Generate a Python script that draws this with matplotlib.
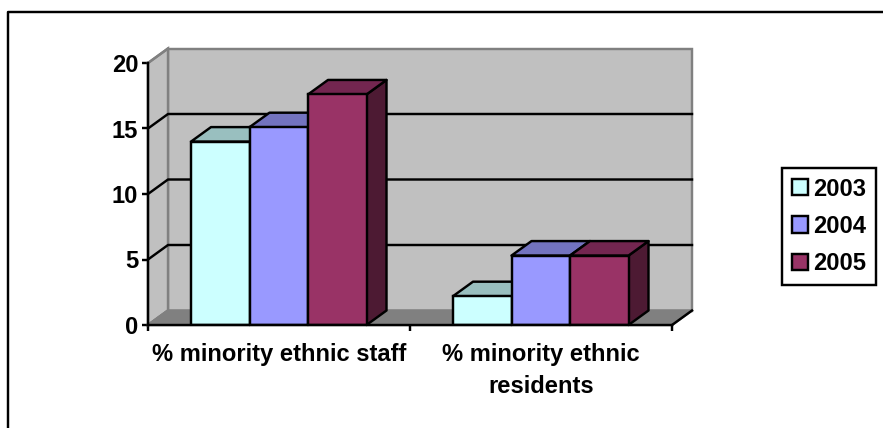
"""Recreated 3D style clustered column chart."""

from __future__ import annotations

import matplotlib
matplotlib.use("Agg")
import matplotlib.pyplot as plt
from matplotlib.lines import Line2D
from matplotlib.patches import Patch, Polygon

categories = ["% minority ethnic staff", "% minority ethnic\nresidents"]
years = ["2003", "2004", "2005"]
values_2003 = [14.0, 2.2]
values_2004 = [15.1, 5.3]
values_2005 = [17.6, 5.3]
y_ticks = [0, 5, 10, 15, 20]

FRONT = ["#CCFFFF", "#9999FF", "#993366"]
TOP = ["#99BFBF", "#7373BF", "#732650"]
SIDE = ["#667F7F", "#4D4D7F", "#4D1A33"]
WALL = "#C0C0C0"
FLOOR = "#808080"

W, H = 883, 428
plt.rcParams["font.family"] = ["Liberation Sans", "DejaVu Sans"]
plt.rcParams["font.weight"] = "bold"
FONT = 17.1
LW = 1.75


def main() -> None:
    fig = plt.figure(figsize=(W / 100, H / 100), dpi=100)
    # axes is the front plane of the fake 3D box
    ax = fig.add_axes([148 / W, 1 - 325 / H, 524 / W, 262 / H])
    ax.set_xlim(0, 2)
    ax.set_ylim(0, 20)
    ax.patch.set_visible(False)
    for name in ["top", "right"]:
        ax.spines[name].set_visible(False)
    for name in ["left", "bottom"]:
        ax.spines[name].set_linewidth(LW)
        ax.spines[name].set_zorder(6)

    dx = 20 / 262
    dy = 14.5 / 13.1
    bar_w = 58.5 / 262
    gap = 43 / 262

    # walls and floor
    ax.add_patch(Polygon([(dx, dy), (2 + dx, dy), (2 + dx, 20 + dy), (dx, 20 + dy)],
                         fc=WALL, ec=FLOOR, lw=LW, clip_on=False, zorder=1))
    ax.add_patch(Polygon([(0, 0), (dx, dy), (dx, 20 + dy), (0, 20)],
                         fc=WALL, ec=FLOOR, lw=LW, clip_on=False, zorder=1))
    ax.add_patch(Polygon([(0, 0), (2, 0), (2 + dx, dy), (dx, dy)],
                         fc=FLOOR, ec=FLOOR, lw=LW, clip_on=False, zorder=1))
    ax.plot([2, 2 + dx], [0, dy], color="black", lw=LW, clip_on=False, zorder=2)

    # gridlines on both walls
    for v in y_ticks[1:-1]:
        ax.plot([0, dx, 2 + dx], [v, v + dy, v + dy], color="black", lw=LW, clip_on=False, zorder=2)
    ax.plot([0, dx], [0, dy], color=FLOOR, lw=LW, clip_on=False, zorder=2)
    ax.plot([0, dx], [20, 20 + dy], color=FLOOR, lw=LW, clip_on=False, zorder=2)

    series = [values_2003, values_2004, values_2005]
    for c in range(len(categories)):
        for s, vals in enumerate(series):
            x0 = c + gap + s * bar_w
            x1 = x0 + bar_w
            v = vals[c]
            z = 3 + s * 0.1
            ax.add_patch(Polygon([(x1, 0), (x1 + dx, dy), (x1 + dx, v + dy), (x1, v)],
                                 fc=SIDE[s], ec="black", lw=LW, joinstyle="round", clip_on=False, zorder=z))
            ax.add_patch(Polygon([(x0, v), (x0 + dx, v + dy), (x1 + dx, v + dy), (x1, v)],
                                 fc=TOP[s], ec="black", lw=LW, joinstyle="round", clip_on=False, zorder=z))
            ax.bar(x0, v, bar_w, align="edge", color=FRONT[s], edgecolor="black", lw=LW, zorder=z + 0.01)

    ax.set_yticks(y_ticks)
    ax.set_xticks([0, 1, 2])
    ax.set_xticklabels([])
    ax.set_xticks([0.5, 1.5], minor=True)
    ax.set_xticklabels(categories, minor=True, fontsize=FONT, fontweight="bold", linespacing=1.5)
    ax.tick_params(axis="x", which="major", length=4, width=LW, direction="out")
    ax.tick_params(axis="x", which="minor", length=0, pad=13)
    ax.tick_params(axis="y", length=4, width=LW, pad=3, labelsize=FONT)

    handles = [Patch(fc=FRONT[i], ec="black", lw=LW) for i in range(3)]
    leg = fig.legend(handles, years, loc="upper left", bbox_to_anchor=(782 / W, 1 - 168 / H),
                     borderaxespad=0, fontsize=FONT, fancybox=False, framealpha=1,
                     edgecolor="black", handlelength=0.68, handleheight=0.68, handletextpad=0.25,
                     labelspacing=0.6, borderpad=0.4)
    leg.get_frame().set_linewidth(LW)

    # outer chart frame, open at the right and bottom
    fig.add_artist(Line2D([8 / W, 8 / W, 1], [0, 1 - 12 / H, 1 - 12 / H], color="black", lw=LW))

    fig.savefig("out.png", dpi=100)
    plt.close(fig)


if __name__ == "__main__":
    main()
